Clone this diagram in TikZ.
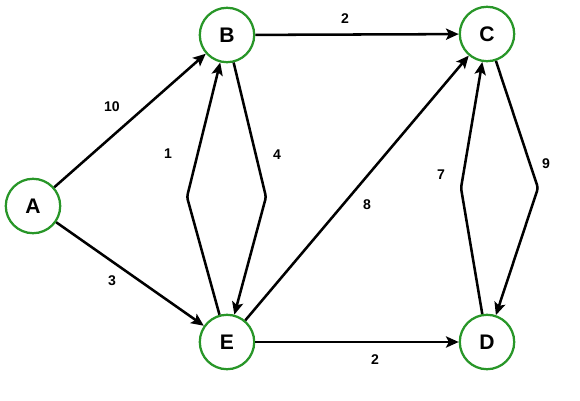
\documentclass[tikz,border=0pt]{standalone}
\usepackage{fontspec}
\setsansfont{Liberation Sans}
\usetikzlibrary{arrows.meta}
\definecolor{vgreen}{RGB}{40,150,40}

\begin{document}
\begin{tikzpicture}[x=0.025cm,y=-0.025cm,
	vert/.style={circle, draw=vgreen, line width=1.6pt, fill=white, minimum size=1.36cm, inner sep=0pt, font=\sffamily\bfseries\fontsize{15}{17}\selectfont},
	arc/.style={draw, line width=1.8pt, rounded corners=2pt, -{Stealth[length=9pt,width=8pt,inset=2pt]}},
	wt/.style={font=\sffamily\bfseries\fontsize{10}{12}\selectfont, inner sep=1pt}]
	\useasboundingbox (0,0) rectangle (580,401);

	\node[vert] (A) at (33,206) {A};
	\node[vert] (B) at (227,35) {B};
	\node[vert] (C) at (487,34) {C};
	\node[vert] (E) at (227,342) {E};
	\node[vert] (D) at (487,342) {D};

	% kinks of the two-way pairs
	\coordinate (eb) at (187,197);
	\coordinate (be) at (266,197);
	\coordinate (dc) at (461,188);
	\coordinate (cd) at (538,188);

	\path[arc]
	(A) edge (B)
	(A) edge (E)
	(B) edge (C)
	(E) edge (C)
	(E) edge (D)
	;
	\draw[arc] (E) -- (eb) -- (B);
	\draw[arc] (B) -- (be) -- (E);
	\draw[arc] (D) -- (dc) -- (C);
	\draw[arc] (C) -- (cd) -- (D);

	\node[wt] (w1) at (112,107) {10};
	\node[wt] (w2) at (112,281) {3};
	\node[wt] (w3) at (345,19) {2};
	\node[wt] (w4) at (168,154) {1};
	\node[wt] (w5) at (277,155) {4};
	\node[wt] (w6) at (367,205) {8};
	\node[wt] (w7) at (375,360) {2};
	\node[wt] (w8) at (441,175) {7};
	\node[wt] (w9) at (546,164) {9};
\end{tikzpicture}
\end{document}
